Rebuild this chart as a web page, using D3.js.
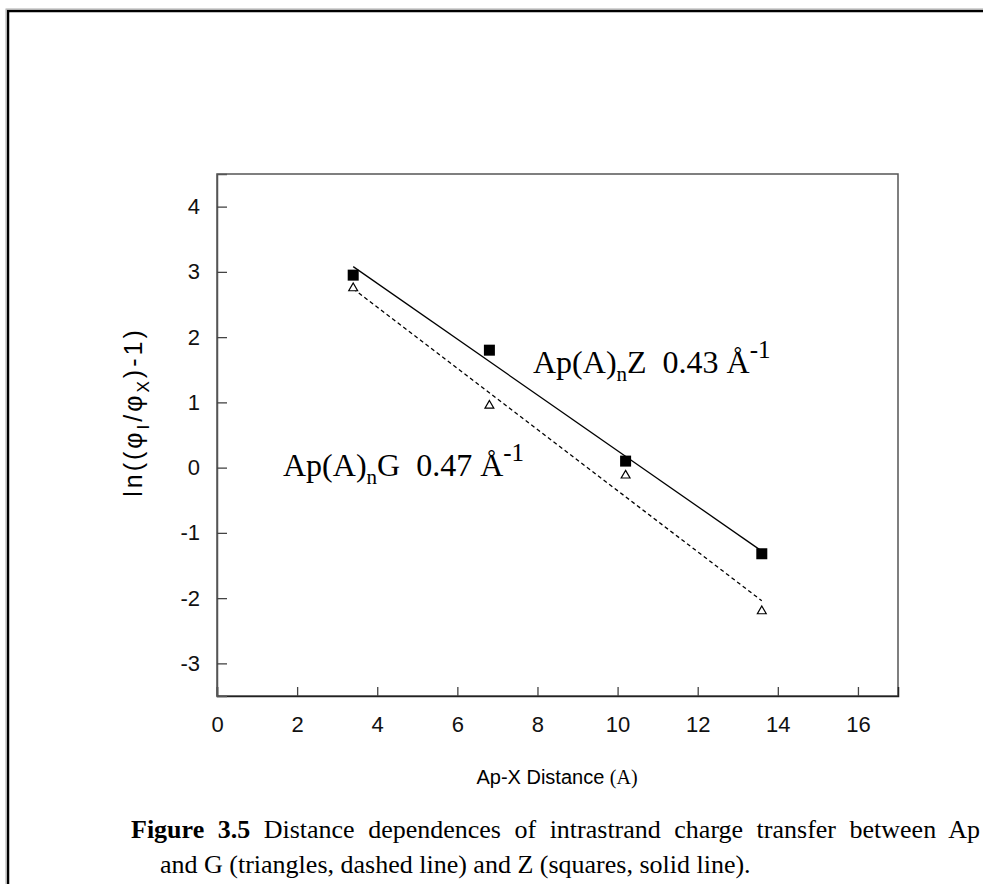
<!DOCTYPE html>
<html>
<head>
<meta charset="utf-8">
<script src="https://cdn.jsdelivr.net/npm/d3@7"></script>
<style>
  body { margin: 0; background: #fff; }
  svg { display: block; }
  text { white-space: pre; }
</style>
</head>
<body>
<div id="chart"></div>
<script>
// data
const distances = [3.4, 6.8, 10.2, 13.6];
const zValues = [2.95, 1.8, 0.1, -1.32];
const gValues = [2.75, 0.95, -0.12, -2.2];
// fitted lines (end points)
const zFit = [[3.4, 3.08], [13.6, -1.28]];
const gFit = [[3.4, 2.74], [13.6, -2.04]];
const xTicks = [0, 2, 4, 6, 8, 10, 12, 14, 16];
const yTicks = [-3, -2, -1, 0, 1, 2, 3, 4];

const width = 983, height = 884;
const plot = { left: 217, right: 898, top: 174, bottom: 696 };

const svg = d3.select("#chart").append("svg")
  .attr("width", width)
  .attr("height", height);

// page frame
svg.append("rect")
  .attr("x", 8).attr("y", 11)
  .attr("width", width + 20).attr("height", height + 20)
  .attr("fill", "none")
  .attr("stroke", "#000")
  .attr("stroke-width", 2.5);
svg.append("rect")
  .attr("x", 6).attr("y", 9)
  .attr("width", width + 20).attr("height", height + 20)
  .attr("fill", "none")
  .attr("stroke", "#aaa")
  .attr("stroke-width", 1);

const x = d3.scaleLinear().domain([0, 17]).range([plot.left, plot.right]);
const y = d3.scaleLinear().domain([-3.5, 4.5]).range([plot.bottom, plot.top]);

// plot box
svg.append("rect")
  .attr("x", plot.left).attr("y", plot.top)
  .attr("width", plot.right - plot.left)
  .attr("height", plot.bottom - plot.top)
  .attr("fill", "none")
  .attr("stroke", "#555")
  .attr("stroke-width", 1.5);

const fmt = d => String(d); // plain hyphen for negatives
const xAxis = svg.append("g")
  .attr("transform", `translate(0,${plot.bottom})`)
  .call(d3.axisBottom(x).tickValues(xTicks).tickSize(-9).tickPadding(20).tickFormat(fmt));
const yAxis = svg.append("g")
  .attr("transform", `translate(${plot.left},0)`)
  .call(d3.axisLeft(y).tickValues(yTicks).tickSize(-10).tickPadding(17).tickFormat(fmt));

[xAxis, yAxis].forEach(ax => {
  ax.select(".domain").attr("stroke", "#222").attr("stroke-width", 1.5);
  ax.selectAll(".tick line").attr("stroke", "#444").attr("stroke-width", 1.3);
  ax.selectAll(".tick text")
    .attr("fill", "#111")
    .style("font-family", "'Liberation Sans', Arial, sans-serif")
    .style("font-size", "22px");
});
yAxis.select(".domain").attr("stroke", "#555");

// fit lines
const line = d3.line().x(d => x(d[0])).y(d => y(d[1]));
svg.append("path").attr("d", line(zFit))
  .attr("fill", "none").attr("stroke", "#000").attr("stroke-width", 1.3);
svg.append("path").attr("d", line(gFit))
  .attr("fill", "none").attr("stroke", "#000").attr("stroke-width", 1.3)
  .attr("stroke-dasharray", "4,3");

// triangles (G)
const tri = d3.symbol().type(d3.symbolTriangle).size(34);
svg.append("g").selectAll("path")
  .data(distances)
  .join("path")
  .attr("d", tri)
  .attr("transform", (d, i) => `translate(${x(d)},${y(gValues[i])})`)
  .attr("fill", "#fff")
  .attr("stroke", "#000")
  .attr("stroke-width", 1.2);

// squares (Z)
svg.append("g").selectAll("rect")
  .data(distances)
  .join("rect")
  .attr("x", d => x(d) - 5.5)
  .attr("y", (d, i) => y(zValues[i]) - 5.5)
  .attr("width", 11).attr("height", 11)
  .attr("fill", "#000");

// annotations
function annot(px, py, letter, slope) {
  const t = svg.append("text")
    .attr("x", px).attr("y", py)
    .style("font-family", "'Liberation Serif', 'Times New Roman', serif")
    .style("font-size", "32px")
    .attr("fill", "#000");
  t.append("tspan").text("Ap(A)");
  t.append("tspan").attr("dy", 8).style("font-size", "21px").text("n");
  t.append("tspan").attr("dy", -8).text(letter + "  " + slope + " Å");
  t.append("tspan").attr("dy", -15).style("font-size", "25px").text("-1");
}
annot(533, 373, "Z", "0.43");
annot(283, 476, "G", "0.47");

// y axis title
const yt = svg.append("text")
  .attr("transform", "translate(142,412) rotate(-90)")
  .attr("text-anchor", "middle")
  .style("font-family", "'Liberation Sans', Arial, sans-serif")
  .style("font-size", "25px")
  .style("letter-spacing", "3px")
  .attr("fill", "#000");
yt.append("tspan").text("ln((φ");
yt.append("tspan").attr("dy", 7).style("font-size", "17px").text("I");
yt.append("tspan").attr("dy", -7).text("/φ");
yt.append("tspan").attr("dy", 7).style("font-size", "17px").text("X");
yt.append("tspan").attr("dy", -7).text(")-1)");

// x axis title
const xt = svg.append("text")
  .attr("x", 557).attr("y", 784)
  .attr("text-anchor", "middle")
  .style("font-family", "'Liberation Sans', Arial, sans-serif")
  .style("font-size", "20px")
  .attr("fill", "#000");
xt.append("tspan").text("Ap-X Distance ");
xt.append("tspan").style("font-family", "'Liberation Serif', serif").text("(A)");

// caption (first line is justified in the source, hence the word spacing;
// it runs past the right edge just as in the reference)
const cap1 = svg.append("text")
  .attr("x", 131).attr("y", 838)
  .style("font-family", "'Liberation Serif', 'Times New Roman', serif")
  .style("font-size", "26px")
  .style("word-spacing", "7px")
  .attr("fill", "#000");
cap1.append("tspan").style("font-weight", "bold").text("Figure 3.5");
cap1.append("tspan").text(" Distance dependences of intrastrand charge transfer between Ap");

svg.append("text")
  .attr("x", 160).attr("y", 873)
  .style("font-family", "'Liberation Serif', 'Times New Roman', serif")
  .style("font-size", "26px")
  .attr("fill", "#000")
  .text("and G (triangles, dashed line) and Z (squares, solid line).");
</script>
</body>
</html>
